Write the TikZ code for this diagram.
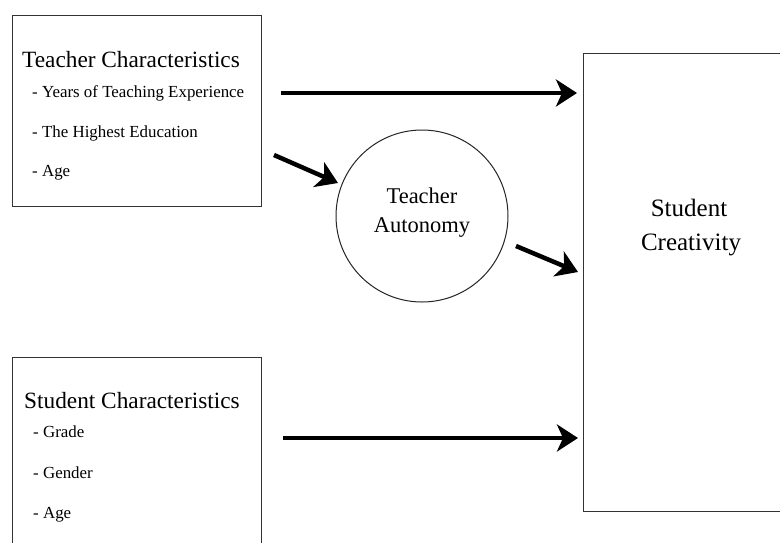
\documentclass[tikz,border=0pt]{standalone}
\usepackage{fontspec}
\setmainfont{Liberation Serif}
\usetikzlibrary{arrows.meta,calc}
\begin{document}
\begin{tikzpicture}[x=1pt,y=-1pt,
  box/.style={draw=black!80,line width=1.2pt,rectangle,inner sep=0pt,anchor=north west},
  ttl/.style={anchor=base west,inner sep=0pt,font=\fontsize{23.3}{26}\selectfont},
  itm/.style={anchor=base west,inner sep=0pt,font=\fontsize{16.9}{19}\selectfont},
  big/.style={anchor=base,inner sep=0pt,font=\fontsize{25}{28}\selectfont},
  circtxt/.style={anchor=base,inner sep=0pt,font=\fontsize{22.5}{25}\selectfont},
  arr/.style={line width=4.5pt,-{Stealth[length=21pt,width=27pt,inset=6pt]}}]
\useasboundingbox (0,0) rectangle (780,542);
\clip (0,0) rectangle (780,542);
\fill[white] (0,0) rectangle (780,542);
% boxes
\node[box,minimum width=249pt,minimum height=191pt] (tc) at (12,15) {};
\node[box,minimum width=249pt,minimum height=210pt] (sc) at (12,357) {};
\node[box,minimum width=230pt,minimum height=458pt] (cr) at (583,53) {};
\node[draw=black!85,line width=1pt,circle,minimum size=172pt,inner sep=0pt] (ta) at (422,216) {};
% texts
\node[ttl] (t1) at (22,67) {Teacher Characteristics};
\node[itm] (t2) at (32,97) {- Years of Teaching Experience};
\node[itm] (t3) at (32,137) {- The Highest Education};
\node[itm] (t4) at (32,176) {- Age};
\node[ttl] (s1) at (24,408) {Student Characteristics};
\node[itm] (s2) at (33,437) {- Grade};
\node[itm] (s3) at (33,478) {- Gender};
\node[itm] (s4) at (33,518) {- Age};
\node[big] (c1) at (689,216) {Student};
\node[big] (c2) at (691,250) {Creativity};
\node[circtxt] (a1) at (422,203) {Teacher};
\node[circtxt] (a2) at (422,232) {Autonomy};
% arrow end points
\coordinate (p1s) at (281,93);
\coordinate (p1e) at (577,93);
\coordinate (p2s) at (274,155);
\coordinate (p2e) at (338,183);
\coordinate (p3s) at (516,246);
\coordinate (p3e) at (578,272);
\coordinate (p4s) at (283,438);
\coordinate (p4e) at (578,438);
\draw[arr] (p1s) -- (p1e);
\draw[arr] (p2s) -- (p2e);
\draw[arr] (p3s) -- (p3e);
\draw[arr] (p4s) -- (p4e);
\end{tikzpicture}
\end{document}
